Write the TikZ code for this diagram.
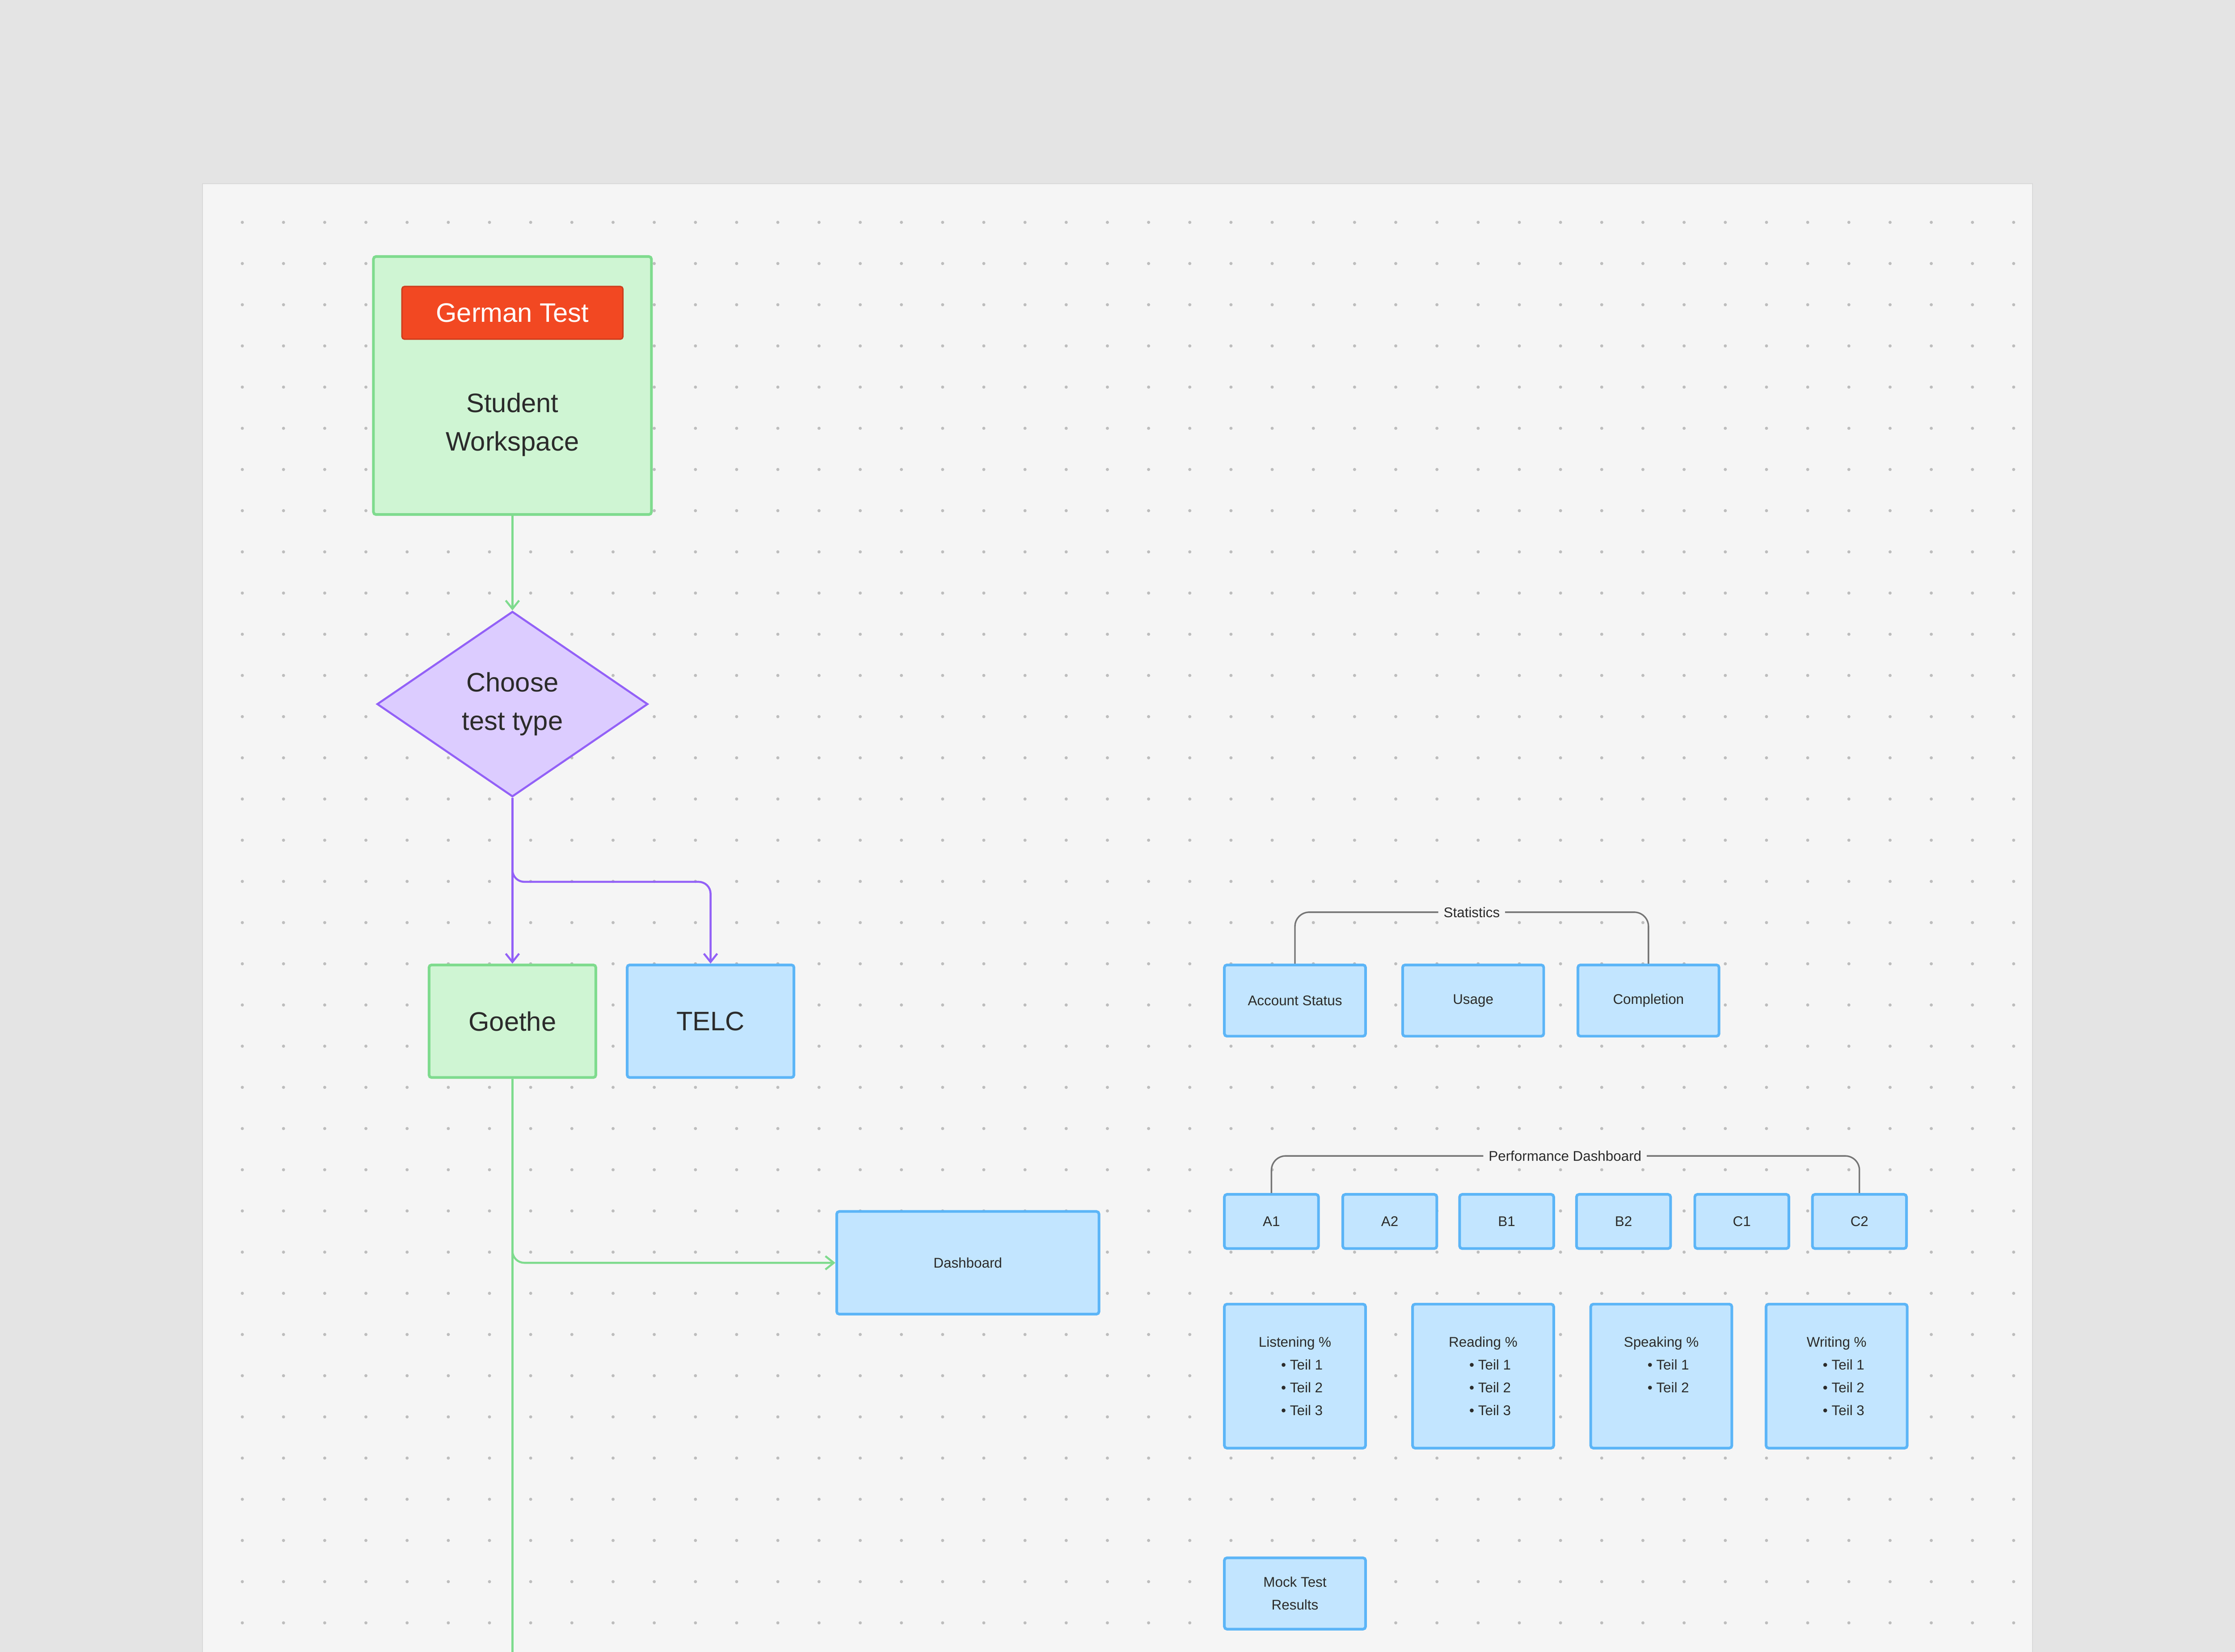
\documentclass[tikz,border=0pt]{standalone}
\usepackage{fontspec}
\setmainfont{Liberation Sans}
\usepackage{tikz}
\usetikzlibrary{
    arrows.meta,
    positioning,
    shapes.geometric,
    calc
}
\definecolor{outerbg}{HTML}{E4E4E4}
\definecolor{canvasbg}{HTML}{F5F5F5}
\definecolor{dotgray}{HTML}{BDBDBD}
\definecolor{greenfill}{HTML}{CFF5D3}
\definecolor{greenline}{HTML}{7FDB8E}
\definecolor{bluefill}{HTML}{C2E5FF}
\definecolor{blueline}{HTML}{5CB5F7}
\definecolor{purpfill}{HTML}{DCCCFF}
\definecolor{purpline}{HTML}{9361F7}
\definecolor{tagred}{HTML}{F24822}
\definecolor{inkdark}{HTML}{2B2B2B}
\definecolor{brackgray}{HTML}{757575}

\begin{document}
\begin{tikzpicture}[
  x=0.03cm, y=-0.03cm,
  >={Straight Barb[length=5pt,width=8pt]},
  box/.style    = {rectangle, draw, rounded corners=1.5pt, line width=1.6pt, align=center, inner sep=0pt, text=inkdark},
  greenbox/.style = {box, fill=greenfill, draw=greenline},
  bluebox/.style  = {box, fill=bluefill, draw=blueline},
  big/.style    = {font=\fontsize{16}{23}\selectfont},
  small/.style  = {font=\fontsize{8.4}{13.6}\selectfont},
  stat/.style   = {bluebox, small, minimum width=2.97cm, minimum height=1.5cm},
  level/.style  = {bluebox, small, minimum width=1.98cm, minimum height=1.14cm},
  skill/.style  = {bluebox, small, minimum width=2.97cm, minimum height=3.03cm},
  gline/.style  = {draw=greenline, line width=1.2pt, rounded corners=0.25cm},
  pline/.style  = {draw=purpline, line width=1.2pt, rounded corners=0.25cm},
  bracket/.style = {draw=brackgray, line width=0.9pt, rounded corners=0.3cm},
  tag/.style    = {small, text=inkdark, inner sep=3pt}
]

% Background and dotted canvas
\useasboundingbox (0,0) rectangle (1568,1159);
\fill[outerbg] (0,0) rectangle (1568,1159);
\filldraw[fill=canvasbg, draw=black!15, line width=0.6pt] (142,129) rectangle (1426,1175);
\foreach \i in {0,...,43}
  \foreach \j in {0,...,34}
    \fill[dotgray] ({170+28.9*\i},{156+28.9*\j}) circle (1.1);

% Left column
\node[greenbox, minimum width=5.85cm, minimum height=5.43cm] (workspace) at (359.5,270.5) {};
\node[box, fill=tagred, draw=tagred!85!black, line width=0.8pt, text=white, font=\fontsize{16}{18}\selectfont,
      minimum width=4.65cm, minimum height=1.11cm] (german) at (359.5,219.5) {German Test};
\node[big, align=center, text=inkdark] (wslabel) at (359.5,298) {Student\\Workspace};

\node[diamond, draw=purpline, fill=purpfill, line width=1.2pt, big, align=center, text=inkdark,
      minimum width=5.7cm, minimum height=3.9cm, inner sep=0pt] (choose) at (359.5,494) {Choose\\test type};

\node[greenbox, big, minimum width=3.51cm, minimum height=2.37cm] (goethe) at (359.5,716.5) {Goethe};
\node[bluebox, big, minimum width=3.51cm, minimum height=2.37cm] (telc) at (498.5,716.5) {TELC};

\node[bluebox, small, minimum width=5.52cm, minimum height=2.16cm] (dash) at (679,886) {Dashboard};
\coordinate (goetheend) at (359.5,1159);

\draw[gline, ->] (workspace.south) -- (choose.north);
\draw[pline, ->] (choose.south) -- (goethe.north);
\draw[pline, ->] (choose.south) -- ++(0,59) -| (telc.north);
\draw[gline] (goethe.south) -- (goetheend);
\draw[gline, ->] (goethe.south) |- (dash.west);

% Statistics
\node[stat] (account) at (908.5,702) {Account Status};
\node[stat] (usage) at (1033.5,702) {Usage};
\node[stat] (completion) at (1156.5,702) {Completion};
\node[tag] (statlbl) at (1032.5,640) {Statistics};
\draw[bracket] (account.north) |- (statlbl.west);
\draw[bracket] (statlbl.east) -| (completion.north);

% Performance dashboard
\node[level] (a1) at (892,857) {A1};
\node[level] (a2) at (975,857) {A2};
\node[level] (b1) at (1057,857) {B1};
\node[level] (b2) at (1139,857) {B2};
\node[level] (c1) at (1222,857) {C1};
\node[level] (c2) at (1304.5,857) {C2};
\node[tag] (perflbl) at (1098,811) {Performance Dashboard};
\draw[bracket] (a1.north) |- (perflbl.west);
\draw[bracket] (perflbl.east) -| (c2.north);

\node[skill] (listening) at (908.5,965.5) {Listening \%\\\quad\textbullet\ Teil 1\\\quad\textbullet\ Teil 2\\\quad\textbullet\ Teil 3};
\node[skill] (reading) at (1040.5,965.5) {Reading \%\\\quad\textbullet\ Teil 1\\\quad\textbullet\ Teil 2\\\quad\textbullet\ Teil 3};
\node[skill] (speaking) at (1165.5,965.5) {Speaking \%\\\quad\textbullet\ Teil 1\\\quad\textbullet\ Teil 2\\\mbox{}};
\node[skill] (writing) at (1288.5,965.5) {Writing \%\\\quad\textbullet\ Teil 1\\\quad\textbullet\ Teil 2\\\quad\textbullet\ Teil 3};

\node[stat] (mock) at (908.5,1118) {Mock Test\\Results};

\end{tikzpicture}
\end{document}
